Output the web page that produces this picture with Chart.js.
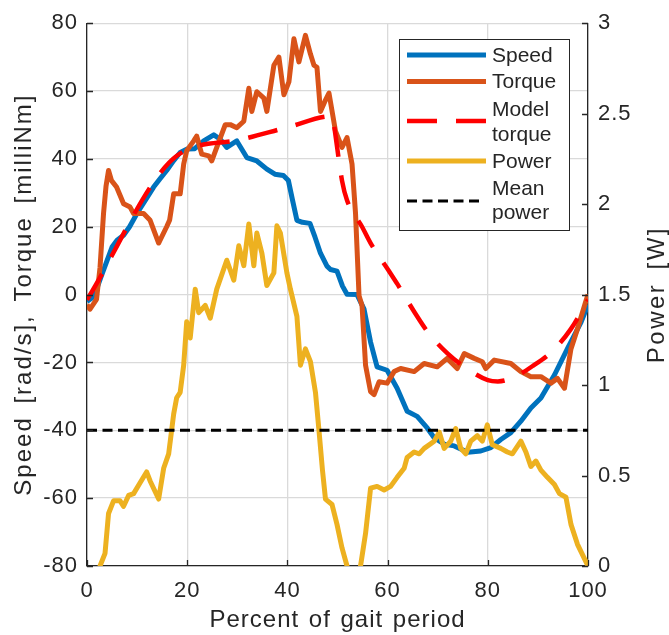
<!DOCTYPE html>
<html><head><meta charset="utf-8">
<script src="https://cdn.jsdelivr.net/npm/chart.js@4.4.1/dist/chart.umd.min.js"></script>
<style>html,body{margin:0;padding:0;background:#fff}#wrap{width:669px;height:635px}</style>
</head><body><div id="wrap"><canvas id="c" width="669" height="635"></canvas></div>
<script>
// ---------- data ----------
const speedPct = [0,1,2,3,4,5,6,7.3,8.5,10,11.5,13.3,14.5,15.9,17.3,18.6,20,21.5,23.3,25.3,26.6,27.9,29.9,31.9,33.9,35.9,37.5,39.2,40.2,41,41.9,43,44.5,45.5,46.6,47.9,48.6,49.9,51,51.9,53.9,55.3,56.6,57.9,59.9,61.9,63.9,65.9,67.9,69.3,71.3,73.3,76,78.6,80.6,82.6,84.6,86.6,88.6,90.6,93.3,95.9,98.6,100];
const speedVal = [-2,-1,2,6,10,14,16,17.5,20,24,27.5,31.7,34,36.6,39.5,41.9,42.9,43,45.3,47.1,45.8,43.4,45.3,40.4,39.4,37,35.5,35.1,33.6,28,21.9,21.3,21,17,12.2,8.4,7.4,6.9,2.5,0.1,0,-4.3,-14,-21.3,-22.3,-27.6,-34.4,-35.9,-39.3,-42.2,-44.1,-44.6,-46.5,-46.1,-45.1,-42.7,-40.7,-37.3,-33.4,-30.5,-23.7,-15.9,-8.2,-3];

const torquePct = [0,0.6,1.9,2.6,3.3,3.8,4.3,4.9,5.9,7.3,8.6,9.3,11.3,12.6,14.3,15.9,16.5,17.3,18.6,19.3,19.9,21.3,21.9,22.9,24.3,24.9,25.9,27.6,28.6,29.9,31.3,32.3,32.9,33.9,35.3,35.9,37.3,38.3,39.3,40.3,41.3,42.3,43.6,44.6,45.3,45.9,46.6,47.5,48.3,49.6,50.9,51.9,52.9,53.6,54.3,54.9,55.6,56.6,57.3,58.3,59.9,61.3,62.6,65.3,67.3,69.9,71.9,73.9,75.3,77.3,78.9,79.6,81.3,84.6,86.6,88.6,90.6,92.6,93.9,95.3,96.6,97.9,99.6,100];
const torqueVal = [-3,-4.3,-1.4,8,23.9,32,36.6,33.6,31.7,26.8,25.8,23.9,23.9,21.9,15.2,20,22,29.7,29.7,38.5,42.4,45.3,46.7,41.4,40.9,39.4,43.4,50.1,50.1,49.2,51.1,60.8,54,59.8,57.9,54,67.6,70,58.9,62.7,75.4,68.6,76.4,70.9,67.6,67,54,57,59.4,48.2,43.4,46.3,38.5,23.9,-0.3,-3.3,-20.8,-28.6,-29.5,-25.7,-26.1,-22.7,-21.8,-22.7,-20.3,-21.3,-18.8,-21.8,-17.4,-18.8,-19.8,-21.8,-19.3,-20.3,-22.7,-24.2,-24.2,-26.1,-24.7,-27.6,-16,-10.1,-1.8,0];

const modelPct = [0,18,30,40,49,49.3,50.9,51.9,54.9,56.6,60.3,62,65.5,68,72,76,80,82,85,89,93,96.6,100];
const modelVal = [-1.5,41,45.5,49.3,52.6,50,33.6,27.8,20,15.2,6.9,3,-5.5,-11,-17.4,-22,-25.2,-25.6,-24.5,-21,-16.5,-10.1,-1.5];

const powerPct = [0,1.5,2.6,3.6,4.3,5.3,6.6,7.3,8.3,9.3,10.6,11.9,12.6,14.3,15.3,16.3,17.3,17.9,18.6,19.3,19.9,20.6,21.6,22.3,23.6,24.6,25.9,27.9,29.3,30.3,31.3,32.3,33.3,33.9,34.9,35.9,37.3,37.9,38.6,39.9,40.6,41.9,42.6,43.6,44.6,45.6,46.3,47,47.6,48.9,49.9,50.9,51.9,53,54.6,55.6,56.6,57.9,59.3,60.6,61.9,63.3,63.9,65.3,66.3,67.3,69.3,70.3,71.3,72.6,73.6,74.6,75.6,76.6,77.9,78.9,79.9,80.9,82.6,83.9,84.9,86.6,87.6,88.6,89.6,90.6,91.9,93.3,94.3,95.6,96.6,97.9,100];
const powerVal = [-0.4,-0.15,0,0.07,0.29,0.36,0.36,0.33,0.39,0.40,0.46,0.52,0.47,0.37,0.54,0.62,0.84,0.93,0.96,1.11,1.35,1.26,1.53,1.40,1.44,1.37,1.53,1.69,1.58,1.77,1.66,1.89,1.66,1.84,1.73,1.55,1.62,1.88,1.84,1.62,1.53,1.38,1.11,1.2,1.13,0.96,0.75,0.53,0.37,0.34,0.23,0.1,0,-0.15,0,0.18,0.43,0.44,0.42,0.44,0.49,0.54,0.6,0.63,0.62,0.65,0.69,0.74,0.65,0.69,0.76,0.65,0.62,0.69,0.72,0.69,0.78,0.67,0.65,0.63,0.62,0.69,0.63,0.55,0.58,0.53,0.49,0.45,0.40,0.38,0.23,0.12,0];

const meanPct = [0,100];
const meanPower = [0.75,0.75];

const seriesNames = ['Speed','Torque','Model torque','Power','Mean power'];
const legendLines = [['Speed'],['Torque'],['Model','torque'],['Power'],['Mean','power']];
const xTitle = 'Percent of gait period';
const yLeftTitle = 'Speed [rad/s], Torque [milliNm]';
const yRightTitle = 'Power [W]';

// ---------- styling ----------
const FONT = '"Liberation Sans", Arial, sans-serif';
const TXT = '#262626';
const AX = '#262626';
const GRID = '#dadada';
const pts = (xs, ys) => xs.map((x, i) => ({x: x, y: ys[i]}));

const datasets = [
  {label: seriesNames[0], data: pts(speedPct, speedVal), borderColor: '#0072BD', borderWidth: 5, yAxisID: 'y', order: 5},
  {label: seriesNames[1], data: pts(torquePct, torqueVal), borderColor: '#D95319', borderWidth: 5, yAxisID: 'y', order: 4},
  {label: seriesNames[2], data: pts(modelPct, modelVal), borderColor: '#FF0000', borderWidth: 4.5, borderDash: [30, 19], cubicInterpolationMode: 'monotone', yAxisID: 'y', order: 3},
  {label: seriesNames[3], data: pts(powerPct, powerVal), borderColor: '#EDB120', borderWidth: 5, yAxisID: 'y1', order: 2},
  {label: seriesNames[4], data: pts(meanPct, meanPower), borderColor: '#000000', borderWidth: 3, borderDash: [10, 5.5], yAxisID: 'y1', order: 1}
];
datasets.forEach(d => { d.pointRadius = 0; d.fill = false; d.tension = 0; d.clip = 0; d.borderCapStyle = 'butt'; d.borderJoinStyle = 'round'; });

const setSpacing = (ctx, ls, ws) => { try { ctx.letterSpacing = ls; ctx.wordSpacing = ws; } catch (e) {} };

const decor = {
  id: 'decor',
  beforeDraw(chart) { setSpacing(chart.ctx, '1px', '0px'); },
  afterDraw(chart) {
    const ctx = chart.ctx, a = chart.chartArea;
    const sx = chart.scales.x, sy = chart.scales.y, sy1 = chart.scales.y1;
    ctx.save();
    setSpacing(ctx, '0px', '0px');
    // inward ticks
    ctx.strokeStyle = AX; ctx.lineWidth = 1.3; ctx.setLineDash([]);
    ctx.beginPath();
    sy.ticks.forEach(t => { const y = Math.round(sy.getPixelForValue(t.value)) + 0.5; ctx.moveTo(a.left, y); ctx.lineTo(a.left + 6, y); });
    sy1.ticks.forEach(t => { const y = Math.round(sy1.getPixelForValue(t.value)) + 0.5; ctx.moveTo(a.right, y); ctx.lineTo(a.right - 6, y); });
    sx.ticks.forEach(t => { const x = Math.round(sx.getPixelForValue(t.value)) + 0.5; ctx.moveTo(x, a.bottom); ctx.lineTo(x, a.bottom - 6); });
    ctx.stroke();

    // titles
    ctx.fillStyle = TXT;
    ctx.font = '24px ' + FONT;
    ctx.textAlign = 'center'; ctx.textBaseline = 'alphabetic';
    setSpacing(ctx, '1px', '2px');
    ctx.fillText(xTitle, (a.left + a.right) / 2, 627);
    setSpacing(ctx, '2px', '4px');
    ctx.save(); ctx.translate(31, (a.top + a.bottom) / 2); ctx.rotate(-Math.PI / 2);
    ctx.fillText(yLeftTitle, 0, 0); ctx.restore();
    setSpacing(ctx, '2.5px', '4px');
    ctx.save(); ctx.translate(664, (a.top + a.bottom) / 2); ctx.rotate(-Math.PI / 2);
    ctx.fillText(yRightTitle, 0, 0); ctx.restore();
    setSpacing(ctx, '0px', '0px');

    // legend
    const L = 399.5, T = 39.5, W = 170, H = 191;
    ctx.fillStyle = '#ffffff'; ctx.fillRect(L, T, W, H);
    ctx.strokeStyle = AX; ctx.lineWidth = 1; ctx.strokeRect(L, T, W, H);
    const rows = [
      {lineY: 55, textY: [55]},
      {lineY: 81.5, textY: [81.5]},
      {lineY: 121, textY: [109, 134]},
      {lineY: 161, textY: [161]},
      {lineY: 201, textY: [188, 212.5]}
    ];
    ctx.font = '21px ' + FONT; ctx.textAlign = 'left'; ctx.textBaseline = 'middle';
    rows.forEach((r, i) => {
      const ds = chart.data.datasets[i];
      ctx.strokeStyle = ds.borderColor; ctx.lineWidth = ds.borderWidth;
      ctx.setLineDash(ds.borderDash || []); ctx.lineCap = 'butt';
      ctx.beginPath(); ctx.moveTo(407, r.lineY); ctx.lineTo(i === 4 ? 481 : 486, r.lineY); ctx.stroke();
      ctx.setLineDash([]);
      ctx.fillStyle = TXT;
      legendLines[i].forEach((s, k) => ctx.fillText(s, 492, r.textY[k] + 1));
    });
    ctx.restore();
  }
};

const tickFont = {family: FONT, size: 22};
const fmt = v => String(Math.round(v * 100) / 100);
new Chart(document.getElementById('c'), {
  type: 'line',
  data: {datasets: datasets},
  options: {
    responsive: false, animation: false, devicePixelRatio: 1,
    layout: {padding: {top: 18, left: 0, right: 0, bottom: 0}},
    plugins: {legend: {display: false}, tooltip: {enabled: false}},
    scales: {
      x: {type: 'linear', position: 'bottom', min: 0, max: 100,
          ticks: {stepSize: 20, font: tickFont, color: TXT, padding: 12, maxRotation: 0, callback: fmt},
          grid: {color: GRID, lineWidth: 1.3, drawTicks: false},
          border: {display: true, color: AX, width: 1.3},
          afterFit(s) { s.height = 69; }},
      y: {type: 'linear', position: 'left', min: -80, max: 80,
          ticks: {stepSize: 20, font: tickFont, color: TXT, padding: 9, callback: fmt},
          grid: {color: GRID, lineWidth: 1.3, drawTicks: false},
          border: {display: true, color: AX, width: 1.3},
          afterFit(s) { s.width = 87; }},
      y1: {type: 'linear', position: 'right', min: 0, max: 3,
          ticks: {stepSize: 0.5, font: tickFont, color: TXT, padding: 10, callback: fmt},
          grid: {drawOnChartArea: false, drawTicks: false},
          border: {display: true, color: AX, width: 1.3},
          afterFit(s) { s.width = 81; }}
    }
  },
  plugins: [decor]
});
</script></body></html>
